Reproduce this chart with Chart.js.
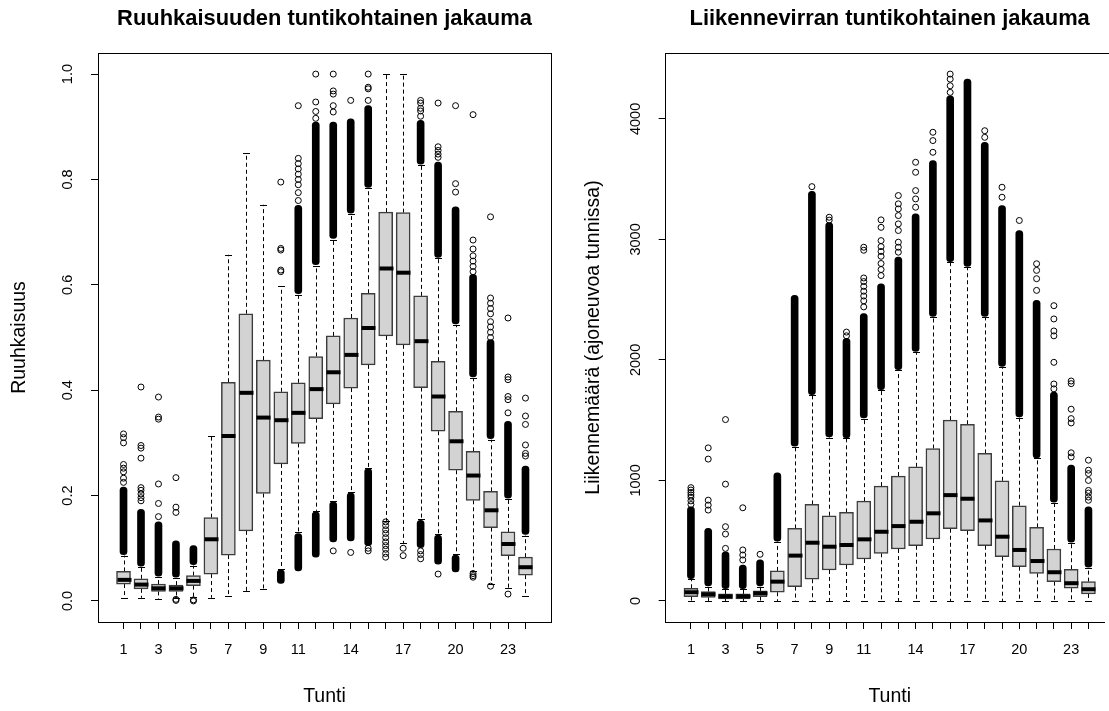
<!DOCTYPE html>
<html>
<head>
<meta charset="utf-8">
<script src="https://cdn.jsdelivr.net/npm/chart.js@4.4.1/dist/chart.umd.min.js"></script>
<style>
  html, body { margin: 0; padding: 0; background: #fff; width: 1109px; height: 711px; overflow: hidden; }
  canvas { position: absolute; top: 0; }
  #ruuhka { left: 0; }
  #liikenne { left: 560px; }
</style>
</head>
<body>
<canvas id="ruuhka" width="560" height="711"></canvas>
<canvas id="liikenne" width="549" height="711"></canvas>
<script>
// Hours of the day and the hours that get a printed label
const HOURS = [1, 2, 3, 4, 5, 6, 7, 8, 9, 10, 11, 12, 13, 14, 15, 16, 17, 18, 19, 20, 21, 22, 23, 24];
const HOUR_LABELS = [1, 3, 5, 7, 9, 11, 14, 17, 20, 23];

// ---- Ruuhkaisuus (congestion index) per hour ----
const ruuhkaLower  = [0.006, 0.006, 0.003, 0.006, 0.008, 0.006, 0.010, 0.018, 0.023, 0.061, 0.130, 0.171,
                      0.190, 0.207, 0.253, 0.152, 0.109, 0.155, 0.127, 0.089, 0.057, 0.032, 0.025, 0.010];
const ruuhkaQ1     = [0.032, 0.023, 0.018, 0.018, 0.029, 0.051, 0.087, 0.133, 0.204, 0.260, 0.299, 0.346,
                      0.374, 0.404, 0.448, 0.503, 0.486, 0.405, 0.322, 0.248, 0.191, 0.139, 0.086, 0.049];
const ruuhkaMedian = [0.040, 0.031, 0.024, 0.024, 0.038, 0.117, 0.313, 0.395, 0.348, 0.343, 0.357, 0.402,
                      0.434, 0.467, 0.518, 0.631, 0.623, 0.493, 0.388, 0.303, 0.238, 0.172, 0.108, 0.064];
const ruuhkaQ3     = [0.056, 0.042, 0.032, 0.030, 0.048, 0.158, 0.415, 0.545, 0.457, 0.397, 0.414, 0.464,
                      0.503, 0.537, 0.584, 0.738, 0.737, 0.579, 0.455, 0.360, 0.284, 0.208, 0.131, 0.083];
const ruuhkaUpper  = [0.086, 0.064, 0.045, 0.043, 0.067, 0.313, 0.657, 0.850, 0.752, 0.597, 0.581, 0.636,
                      0.686, 0.734, 0.783, 1.000, 1.000, 0.827, 0.650, 0.524, 0.423, 0.306, 0.193, 0.124];
// Runs of outliers packed so tightly that they merge into a solid column
const ruuhkaDenseHigh = [[0.088, 0.216], [0.066, 0.174], [0.047, 0.150], [0.045, 0.114], [0.069, 0.105], null,
                         null, null, null, null, [0.583, 0.751], [0.638, 0.909],
                         [0.688, 0.909], [0.736, 0.915], [0.785, 0.940], null, null, [0.829, 0.912],
                         [0.652, 0.833], [0.526, 0.748], [0.425, 0.620], [0.308, 0.496], [0.195, 0.341], [0.126, 0.256]];
const ruuhkaDenseLow  = [null, null, null, null, null, null, null, null, null, [0.033, 0.059], [0.057, 0.128], [0.083, 0.169],
                         [0.112, 0.188], [0.114, 0.205], [0.105, 0.251], null, null, [0.101, 0.153],
                         [0.070, 0.125], [0.055, 0.087], null, null, null, null];
const ruuhkaOutliers = [
  [0.225, 0.233, 0.245, 0.252, 0.259, 0.300, 0.310, 0.317],
  [0.190, 0.196, 0.203, 0.210, 0.215, 0.271, 0.290, 0.295, 0.406],
  [0.160, 0.185, 0.222, 0.345, 0.349, 0.387],
  [0.001, 0.003, 0.168, 0.178, 0.234],
  [0.000, 0.002],
  [], [], [], [],
  [0.625, 0.628, 0.666, 0.669, 0.795],
  [0.760, 0.775, 0.790, 0.800, 0.810, 0.820, 0.830, 0.840, 0.940],
  [0.916, 0.929, 0.947, 1.000],
  [0.095, 0.928, 0.940, 0.962, 0.968, 1.000],
  [0.092, 0.950],
  [0.095, 0.100, 0.950, 0.972, 0.975, 1.000],
  [0.150, 0.143, 0.135, 0.128, 0.120, 0.112, 0.105, 0.098, 0.090, 0.083],
  [0.100, 0.086],
  [0.095, 0.088, 0.080, 0.920, 0.930, 0.935, 0.945, 0.950],
  [0.051, 0.842, 0.848, 0.855, 0.862, 0.945],
  [0.776, 0.792, 0.940],
  [0.045, 0.048, 0.052, 0.625, 0.635, 0.645, 0.655, 0.668, 0.685, 0.923],
  [0.028, 0.500, 0.510, 0.520, 0.530, 0.545, 0.555, 0.565, 0.575, 0.729],
  [0.013, 0.357, 0.382, 0.388, 0.420, 0.425, 0.537],
  [0.275, 0.280, 0.296, 0.335, 0.351, 0.385]
];
const ruuhkaTicks = [0, 0.2, 0.4, 0.6, 0.8, 1.0];

// ---- Liikennemäärä (vehicles per hour) per hour ----
const liikenneLower  = [0, 0, 0, 0, 0, 0, 0, 0, 0, 0, 0, 0, 0, 0, 0, 0, 0, 0, 0, 0, 0, 0, 0, 0];
const liikenneQ1     = [36, 30, 17, 17, 36, 72, 119, 180, 257, 298, 348, 395,
                        431, 458, 514, 599, 582, 458, 367, 284, 229, 160, 105, 58];
const liikenneMedian = [72, 55, 38, 38, 63, 160, 376, 483, 450, 464, 511, 574,
                        621, 657, 727, 878, 848, 668, 533, 423, 331, 238, 147, 97];
const liikenneQ3     = [105, 77, 58, 58, 83, 249, 602, 801, 707, 735, 828, 953,
                        1036, 1113, 1265, 1500, 1466, 1224, 997, 790, 610, 431, 263, 160];
const liikenneUpper  = [180, 119, 97, 97, 119, 491, 1279, 1707, 1356, 1348, 1513, 1748,
                        1914, 2066, 2355, 2811, 2770, 2355, 1941, 1522, 1182, 815, 483, 276];
const liikenneDenseHigh = [[185, 781], [124, 602], [102, 408], [102, 298], [124, 340], [496, 1063],
                           [1284, 2535], [1712, 3400], [1361, 3140], [1353, 2180], [1518, 2384], [1753, 2632],
                           [1919, 2853], [2071, 3212], [2360, 3654], [2816, 4192], [2775, 4330], [2360, 3805],
                           [1946, 3281], [1527, 3074], [1187, 2494], [820, 1734], [488, 1127], [281, 781]];
const liikenneDenseLow = [null, null, null, null, null, null, null, null, null, null, null, null,
                          null, null, null, null, null, null, null, null, null, null, null, null];
const liikenneOutliers = [
  [800, 830, 860, 880, 900, 920, 940],
  [754, 795, 836, 1177, 1270],
  [436, 555, 616, 969, 1505],
  [340, 381, 423, 773],
  [387],
  [],
  [],
  [3438],
  [3160, 3184],
  [2200, 2231],
  [2440, 2490, 2530, 2570, 2610, 2650, 2680, 2910, 2935],
  [2700, 2750, 2800, 2860, 2900, 2940, 2990, 3100, 3162],
  [2894, 2935, 2977, 3074, 3129, 3198, 3253, 3295, 3364],
  [3267, 3336, 3405, 3557, 3640],
  [3723, 3820, 3889],
  [4220, 4275, 4330, 4372],
  [],
  [3847, 3902],
  [3350, 3433],
  [3157],
  [2577, 2674, 2743, 2798],
  [1760, 1800, 1980, 2200, 2240, 2340, 2450],
  [1195, 1229, 1477, 1513, 1591, 1803, 1825],
  [835, 862, 895, 917, 1000, 1057, 1085, 1168]
];
const liikenneTicks = [0, 1000, 2000, 3000, 4000];

const FONT = "'Liberation Sans', Arial, sans-serif";
const BOX_FILL = '#d3d3d3';
const BOX_EDGE = '#3c3c3c';

function makeBoxChart(canvasId, s) {
  // value range of everything drawn, widened by 4 % like base graphics does
  const all = [].concat(s.lower, s.upper, s.outliers.flat(),
    s.denseHigh.filter(Boolean).flat(), s.denseLow.filter(Boolean).flat());
  const lo = Math.min(...all), hi = Math.max(...all);
  const yPad = 0.04 * (hi - lo);
  const n = HOURS.length;
  const xPad = 0.04 * n;
  const xMin = 0.5 - xPad, xMax = n + 0.5 + xPad;
  const xMid = (xMin + xMax) / 2;

  const band = arr => HOURS.map((h, i) => arr[i] ? { x: h, y: arr[i] } : null).filter(Boolean);

  const boxParts = {
    id: 'boxParts',
    beforeDatasetsDraw(chart) {
      const { ctx, scales: { x, y } } = chart;
      ctx.save();
      ctx.strokeStyle = '#000';
      ctx.lineWidth = 1;
      HOURS.forEach((h, i) => {
        const px = Math.round(x.getPixelForValue(h)) + 0.5;
        const yq1 = y.getPixelForValue(s.q1[i]), yq3 = y.getPixelForValue(s.q3[i]);
        const ylo = y.getPixelForValue(s.lower[i]), yhi = y.getPixelForValue(s.upper[i]);
        ctx.setLineDash([4, 3]);
        ctx.beginPath();
        ctx.moveTo(px, yq3); ctx.lineTo(px, yhi);
        ctx.moveTo(px, yq1); ctx.lineTo(px, ylo);
        ctx.stroke();
        ctx.setLineDash([]);
        ctx.beginPath();
        ctx.moveTo(px - 3.5, Math.round(yhi) + 0.5); ctx.lineTo(px + 3.5, Math.round(yhi) + 0.5);
        ctx.moveTo(px - 3.5, Math.round(ylo) + 0.5); ctx.lineTo(px + 3.5, Math.round(ylo) + 0.5);
        ctx.stroke();
      });
      ctx.restore();
    },
    afterDatasetsDraw(chart) {
      const { ctx, scales: { x, y } } = chart;
      ctx.save();
      ctx.strokeStyle = '#000';
      ctx.lineWidth = 4;
      ctx.lineCap = 'butt';
      HOURS.forEach((h, i) => {
        const px = Math.round(x.getPixelForValue(h)) + 0.5;
        const ym = y.getPixelForValue(s.median[i]);
        ctx.beginPath();
        ctx.moveTo(px - 7, ym); ctx.lineTo(px + 7, ym);
        ctx.stroke();
      });
      ctx.restore();
    },
    afterDraw(chart) {
      const { ctx, chartArea: a, scales: { x } } = chart;
      // plot frame: top and right sides (left and bottom come from the axes)
      const l = Math.round(a.left), t = Math.round(a.top), b = Math.round(a.bottom);
      const r = Math.round(x.getPixelForValue(xMax));
      ctx.save();
      ctx.fillStyle = '#000';
      ctx.fillRect(l, t, r - l + 1, 1);
      ctx.fillRect(r, t, 1, b - t + 1);
      // main title and x-axis title, centred on the full hour range
      const cx = x.getPixelForValue(xMid);
      ctx.textAlign = 'center';
      ctx.textBaseline = 'middle';
      ctx.font = `bold 21.9px ${FONT}`;
      ctx.fillText(s.title, cx, 19);
      ctx.font = `19.5px ${FONT}`;
      ctx.fillText('Tunti', cx, 696.3);
      ctx.restore();
    }
  };

  return new Chart(document.getElementById(canvasId), {
    type: 'bar',
    data: {
      datasets: [
        {
          type: 'scatter',
          data: s.outliers.flatMap((arr, i) => arr.map(v => ({ x: HOURS[i], y: v }))),
          pointStyle: 'circle',
          pointRadius: 3,
          pointBorderWidth: 1,
          pointBorderColor: '#000',
          pointBackgroundColor: 'rgba(0,0,0,0)',
          showLine: false
        },
        {
          data: band(s.denseHigh),
          backgroundColor: '#000',
          borderWidth: 0,
          borderRadius: 3.5,
          borderSkipped: false,
          barThickness: 7,
          grouped: false
        },
        {
          data: band(s.denseLow),
          backgroundColor: '#000',
          borderWidth: 0,
          borderRadius: 3.5,
          borderSkipped: false,
          barThickness: 7,
          grouped: false
        },
        {
          data: HOURS.map((h, i) => ({ x: h, y: [s.q1[i], s.q3[i]] })),
          backgroundColor: BOX_FILL,
          borderColor: BOX_EDGE,
          borderWidth: 1.5,
          borderSkipped: false,
          barThickness: 14,
          grouped: false
        }
      ]
    },
    options: {
      responsive: false,
      animation: false,
      devicePixelRatio: 1,
      layout: { padding: { left: 0, right: s.padRight, top: 53, bottom: 0 } },
      plugins: {
        legend: { display: false },
        tooltip: { enabled: false },
        title: { display: false }
      },
      scales: {
        x: {
          type: 'linear',
          min: xMin,
          // the right-hand panel is cut by the page edge before its frame ends
          max: s.visibleTo !== undefined ? s.visibleTo : xMax,
          offset: false,
          afterBuildTicks: sc => { sc.ticks = HOURS.map(v => ({ value: v })); },
          afterFit: sc => { sc.height = 89; },
          grid: { display: true, offset: false, drawOnChartArea: false, drawTicks: true, tickLength: 7, tickColor: '#000', tickWidth: 1 },
          border: { display: true, color: '#000', width: 1 },
          ticks: {
            autoSkip: false, maxRotation: 0, minRotation: 0, padding: 12,
            color: '#000', font: { family: FONT, size: 14.5 },
            callback: v => HOUR_LABELS.includes(v) ? String(v) : ''
          },
          title: { display: false }
        },
        y: {
          type: 'linear',
          min: lo - yPad,
          max: hi + yPad,
          afterBuildTicks: sc => { sc.ticks = s.ticks.map(v => ({ value: v })); },
          afterFit: sc => { sc.width = s.yWidth; },
          grid: { display: true, drawOnChartArea: false, drawTicks: true, tickLength: 7, tickColor: '#000', tickWidth: 1 },
          border: { display: true, color: '#000', width: 1 },
          ticks: {
            minRotation: 90, maxRotation: 90, crossAlign: 'center', padding: s.tickPad,
            color: '#000', font: { family: FONT, size: 14.5 },
            callback: s.tickFormat
          },
          title: {
            display: true, text: s.yTitle, color: '#000',
            font: { family: FONT, size: 19.5 }, padding: { top: s.yTitlePad, bottom: 0 }
          }
        }
      }
    },
    plugins: [boxParts]
  });
}

makeBoxChart('ruuhka', {
  title: 'Ruuhkaisuuden tuntikohtainen jakauma',
  yTitle: 'Ruuhkaisuus',
  lower: ruuhkaLower, q1: ruuhkaQ1, median: ruuhkaMedian, q3: ruuhkaQ3, upper: ruuhkaUpper,
  denseHigh: ruuhkaDenseHigh, denseLow: ruuhkaDenseLow, outliers: ruuhkaOutliers,
  ticks: ruuhkaTicks,
  tickFormat: v => v.toFixed(1),
  yWidth: 98, padRight: 9, tickPad: 13, yTitlePad: 8
});

makeBoxChart('liikenne', {
  title: 'Liikennevirran tuntikohtainen jakauma',
  yTitle: 'Liikennemäärä (ajoneuvoa tunnissa)',
  lower: liikenneLower, q1: liikenneQ1, median: liikenneMedian, q3: liikenneQ3, upper: liikenneUpper,
  denseHigh: liikenneDenseHigh, denseLow: liikenneDenseLow, outliers: liikenneOutliers,
  ticks: liikenneTicks,
  tickFormat: v => String(v),
  yWidth: 105.7, padRight: 0, tickPad: 7, yTitlePad: 22,
  visibleTo: 24.9
});
</script>
</body>
</html>
